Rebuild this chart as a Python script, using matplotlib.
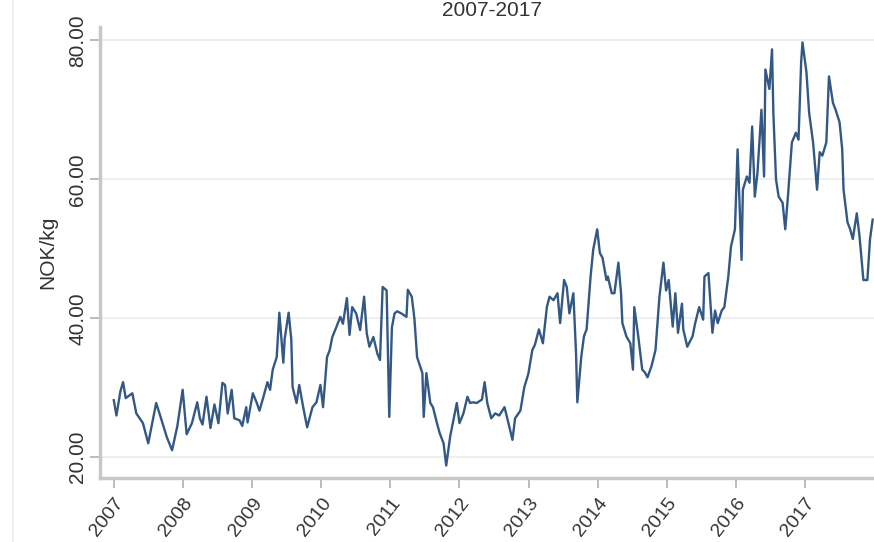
import matplotlib
matplotlib.use("Agg")
import matplotlib.pyplot as plt
import matplotlib.transforms as mtransforms
from matplotlib.lines import Line2D
import pandas as pd

# salmon price, NOK/kg (week number counted from 2007-01-01)
weeks = [0, 2, 5, 7, 9, 14, 17, 22, 26, 29, 32, 35, 40, 44, 48, 52, 55, 59, 63, 65,
         67, 70, 73, 76, 79, 82, 84, 86, 89, 91, 95, 97, 100, 101, 105, 108, 110, 113, 116, 118,
         120, 123, 125, 128, 129, 132, 134, 135, 138, 140, 143, 146, 150, 153, 156, 158, 161, 163, 165, 168,
         171, 173, 176, 178, 180, 183, 186, 189, 191, 193, 196, 199, 201, 203, 206, 208, 210, 212, 214, 217,
         221, 222, 225, 227, 229, 233, 234, 236, 239, 241, 244, 246, 249, 251, 254, 256, 259, 261, 264, 267,
         269, 271, 274, 278, 280, 282, 285, 288, 291, 295, 298, 301, 303, 307, 310, 313, 316, 318, 321, 324,
         327, 329, 332, 335, 337, 340, 342, 344, 347, 349, 350, 353, 355, 357, 360, 362, 365, 367, 369, 372,
         373, 376, 378, 381, 383, 384, 387, 390, 392, 393, 396, 399, 401, 403, 406, 409, 412, 415, 417, 419,
         422, 424, 426, 429, 430, 433, 437, 439, 442, 445, 446, 449, 452, 454, 456, 459, 461, 464, 466, 469,
         471, 474, 475, 478, 480, 482, 484, 486, 489, 491, 492, 495, 497, 498, 500, 502, 505, 507, 509, 512,
         515, 517, 519, 520, 523, 525, 528, 531, 533, 535, 538, 540, 543, 545, 548, 550, 551, 554, 556, 558,
         561, 563, 566, 569, 571, 573]
price = [28.2, 26.0, 29.5, 30.8, 28.5, 29.2, 26.3, 24.9, 22.0, 24.9, 27.8, 26.0, 22.9, 21.0, 24.5, 29.7, 23.3, 24.9, 27.9, 25.6,
         24.7, 28.7, 24.2, 27.6, 24.9, 30.7, 30.4, 26.3, 29.7, 25.6, 25.3, 24.5, 27.2, 25.0, 29.2, 27.8, 26.7, 28.7, 30.8, 29.7,
         32.6, 34.4, 40.8, 33.6, 37.0, 40.8, 37.0, 30.1, 27.8, 30.4, 27.2, 24.3, 27.2, 27.9, 30.4, 27.2, 34.4, 35.4, 37.3, 38.7,
         40.2, 39.2, 42.9, 37.6, 41.6, 40.7, 38.3, 43.1, 37.8, 35.9, 37.3, 34.9, 34.0, 44.5, 44.0, 25.8, 38.7, 40.7, 41.0, 40.7,
         40.2, 44.1, 43.1, 39.9, 34.4, 32.1, 25.8, 32.1, 27.8, 27.2, 24.9, 23.5, 22.0, 18.8, 23.0, 24.9, 27.8, 24.9, 26.3, 28.7,
         27.8, 27.9, 27.8, 28.3, 30.8, 27.8, 25.6, 26.3, 26.0, 27.2, 24.9, 22.5, 25.6, 26.7, 30.1, 32.0, 35.4, 36.2, 38.4, 36.4,
         41.6, 43.1, 42.6, 43.6, 39.3, 45.5, 44.5, 40.7, 43.6, 35.0, 27.9, 34.5, 37.4, 38.4, 46.0, 49.9, 52.8, 49.4, 48.7, 45.5,
         46.0, 43.6, 43.6, 48.0, 43.6, 39.3, 37.4, 36.4, 32.6, 41.6, 37.4, 32.6, 32.2, 31.5, 33.1, 35.4, 43.1, 48.0, 44.0, 45.5,
         38.8, 43.6, 37.9, 42.1, 38.4, 35.9, 37.4, 39.3, 41.6, 39.8, 46.0, 46.5, 37.9, 41.1, 39.3, 41.1, 41.6, 46.0, 50.3, 52.8,
         64.3, 48.4, 58.5, 60.4, 59.5, 67.6, 57.5, 60.9, 70.0, 60.4, 75.8, 73.0, 78.7, 69.6, 60.0, 57.5, 56.6, 52.8, 57.5, 65.3,
         66.7, 65.7, 76.9, 79.7, 75.4, 69.6, 65.3, 58.5, 63.9, 63.4, 65.3, 74.8, 71.0, 70.0, 68.2, 64.3, 58.5, 53.8, 52.8, 51.4,
         55.1, 51.9, 45.5, 45.5, 51.4, 54.2]
years = list(range(2007, 2018))
yticks = [20, 40, 60, 80]

dates = pd.Timestamp("2007-01-01") + pd.to_timedelta([w * 7 for w in weeks], unit="D")

plt.rcParams["font.family"] = ["Liberation Sans", "DejaVu Sans"]

fig = plt.figure(figsize=(8.74, 5.42), dpi=100)
ax = fig.add_axes([0.1144, 0.118, 0.8856, 0.832])

ax.plot(dates, price, color="#1d4677", linewidth=1.7, alpha=0.9)

ax.set_xlim(pd.Timestamp("2006-10-20"), pd.Timestamp("2018-01-01"))
ax.set_ylim(17.0, 81.9)

ax.set_yticks(yticks)
ax.set_yticklabels(["%.2f" % v for v in yticks], rotation=90, va="center")
ax.set_xticks([pd.Timestamp("%d-01-01" % y) for y in years])
ax.set_xticklabels([str(y) for y in years], rotation=52, ha="right",
                   rotation_mode="anchor")

# nudge the year labels a little to the left, like the original
shift = mtransforms.ScaledTranslation(-4 / 100, 0, fig.dpi_scale_trans)
for lab in ax.get_xticklabels():
    lab.set_transform(lab.get_transform() + shift)

ax.yaxis.grid(True, color="#eef0f0", linewidth=1.5)
ax.set_axisbelow(True)

for side in ["top", "right"]:
    ax.spines[side].set_visible(False)
for side in ["left", "bottom"]:
    ax.spines[side].set_color("#c8c8c8")
    ax.spines[side].set_linewidth(2.5)

ax.tick_params(axis="both", colors="#b0b0b0", length=7, width=1.2,
               labelsize=15, labelcolor="#333333")
ax.tick_params(axis="y", pad=2)
ax.tick_params(axis="x", pad=5, labelsize=14)

ax.set_ylabel("NOK/kg", fontsize=15, color="#333333", labelpad=8)
fig.text(0.563, 0.999, "2007-2017", ha="center", va="top",
         fontsize=15, color="#333333")

fig.add_artist(Line2D([0.015, 0.015], [0.0, 1.0], transform=fig.transFigure,
                      color="#eef0f0", linewidth=1.5))

fig.savefig("out.png", dpi=100)
